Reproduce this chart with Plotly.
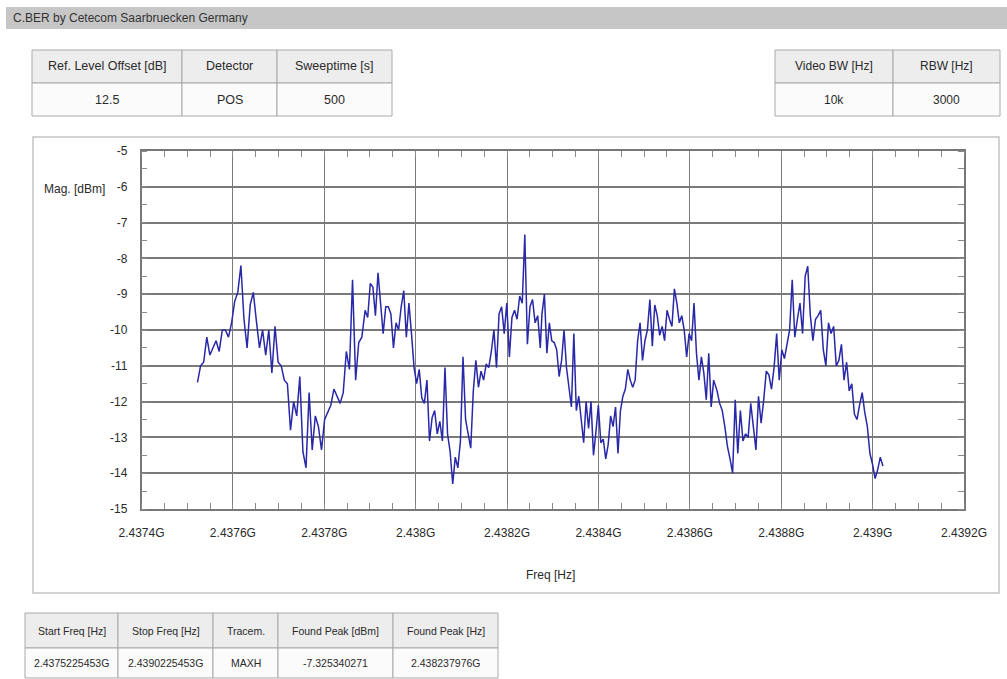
import numpy as np
import plotly.graph_objects as go

W, H = 1007, 679

title_text = "C.BER by Cetecom Saarbruecken Germany"

# sweep segments (GHz) and the trace values (dBm)
seg_start_ghz = [2.4375225, 2.4378894, 2.4382764, 2.4386596]
seg_stop_ghz = [2.4378822, 2.4382727, 2.4386521, 2.4390225]

seg1_dbm = [-11.46, -11.0, -10.9, -10.2, -10.7, -10.5, -10.3, -10.6, -10.0, -10.0,
            -10.2, -9.8, -9.2, -8.95, -8.2, -9.7, -10.5, -9.3, -8.95, -9.75,
            -10.5, -10.0, -10.7, -10.0, -11.2, -9.9, -10.9, -11.0, -11.4, -11.5,
            -12.8, -12.0, -12.4, -11.3, -13.4, -13.85, -11.75, -13.35, -12.4, -12.7,
            -13.35, -12.5, -12.3, -12.1, -11.65, -11.85, -12.05, -11.75, -10.6, -11.1,
            -8.6, -11.4, -10.35, -10.2]
seg2_dbm = [-9.45, -9.65, -8.7, -8.8, -9.6, -8.4, -9.35, -10.1, -9.35, -9.35,
            -9.55, -10.5, -9.8, -10.0, -9.35, -8.9, -10.2, -9.25, -10.1, -11.05,
            -11.5, -11.1, -11.9, -12.05, -11.4, -13.1, -12.45, -12.25, -12.9, -12.55,
            -13.1, -11.05, -12.9, -13.4, -14.3, -13.55, -13.85, -13.1, -10.75, -12.5,
            -12.9, -13.3, -11.7, -10.85, -11.6, -11.15, -11.4, -10.95, -11.05, -10.6,
            -10.0, -11.05, -9.55, -9.35, -10.1, -9.25, -10.75, -9.65, -9.45, -9.7,
            -9.05, -9.25, -7.33, -10.4, -9.35, -9.15, -9.8, -9.6, -10.5]
seg3_dbm = [-9.55, -9.0, -10.65, -9.8, -10.3, -10.35, -10.55, -11.3, -10.85, -10.0,
            -11.05, -11.6, -12.15, -10.1, -12.25, -11.85, -12.6, -13.15, -12.0, -12.75,
            -12.0, -13.5, -12.85, -12.1, -13.15, -13.05, -13.6, -13.2, -12.4, -12.7,
            -12.15, -13.45, -12.25, -11.85, -11.65, -11.1, -11.4, -11.6, -11.4, -10.3,
            -9.8, -10.85, -10.3, -10.0, -9.15, -10.45, -9.3, -9.6, -10.15, -9.9,
            -10.3, -9.45, -9.7, -9.9, -8.85, -9.25, -9.8, -9.6, -10.0, -10.75,
            -10.1, -10.3, -9.25, -10.65, -11.4, -10.75, -11.2, -11.95, -10.65, -12.15,
            -11.4]
seg4_dbm = [-11.7, -12.05, -12.25, -12.7, -13.25, -13.6, -14.0, -11.95, -13.45, -12.25,
            -13.1, -12.9, -13.0, -12.05, -12.7, -13.35, -11.85, -12.6, -11.95, -11.15,
            -11.25, -11.65, -11.05, -10.1, -11.4, -10.55, -10.8, -10.35, -10.0, -8.6,
            -10.2, -9.7, -9.25, -10.1, -8.5, -8.22, -9.6, -10.3, -9.7, -9.6,
            -9.45, -10.55, -11.0, -9.8, -10.1, -9.9, -11.0, -10.85, -10.4, -11.4,
            -10.9, -11.7, -11.5, -12.35, -12.5, -12.1, -11.75, -12.3, -12.7, -13.45,
            -13.75, -14.15, -13.9, -13.55, -13.8]

x_tick_vals = [2.4374, 2.4376, 2.4378, 2.4380, 2.4382, 2.4384, 2.4386, 2.4388, 2.4390, 2.4392]
x_tick_labels = ["2.4374G", "2.4376G", "2.4378G", "2.438G", "2.4382G", "2.4384G",
                 "2.4386G", "2.4388G", "2.439G", "2.4392G"]
y_tick_vals = [-5, -6, -7, -8, -9, -10, -11, -12, -13, -14, -15]
y_tick_labels = ["-5", "-6", "-7", "-8", "-9", "-10", "-11", "-12", "-13", "-14", "-15"]

tl_headers = ["Ref. Level Offset [dB]", "Detector", "Sweeptime [s]"]
tl_values = ["12.5", "POS", "500"]
tr_headers = ["Video BW [Hz]", "RBW [Hz]"]
tr_values = ["10k", "3000"]
bt_headers = ["Start Freq [Hz]", "Stop Freq [Hz]", "Tracem.", "Found Peak [dBm]", "Found Peak [Hz]"]
bt_values = ["2.4375225453G", "2.4390225453G", "MAXH", "-7.325340271", "2.438237976G"]

# ---------------------------------------------------------------
segs = [seg1_dbm, seg2_dbm, seg3_dbm, seg4_dbm]
freq, mag = [], []
for s0, s1, vals in zip(seg_start_ghz, seg_stop_ghz, segs):
    freq.extend(np.linspace(s0, s1, len(vals)).tolist())
    mag.extend(vals)


def px(x):
    return x / W


def py(y):
    return 1 - y / H


FONT = "Liberation Sans, Arial, sans-serif"
TXT = "#2a2a2a"

fig = go.Figure()
fig.add_trace(go.Scatter(x=freq, y=mag, mode="lines",
                         line=dict(color="#2828a8", width=1.5), hoverinfo="skip",
                         showlegend=False))

shapes = []
annotations = []

# title bar
shapes.append(dict(type="rect", xref="paper", yref="paper", x0=px(6), x1=px(1007),
                   y0=py(29), y1=py(7), fillcolor="#c6c6c6", line=dict(width=0), layer="below"))
annotations.append(dict(text=title_text, x=px(11), y=py(18), xref="paper", yref="paper",
                        xanchor="left", yanchor="middle", showarrow=False,
                        font=dict(family=FONT, size=12, color="#333333")))

# chart panel frame
shapes.append(dict(type="rect", xref="paper", yref="paper", x0=px(33), x1=px(999),
                   y0=py(593), y1=py(137), fillcolor="rgba(0,0,0,0)",
                   line=dict(color="#c4c4c4", width=1.5), layer="below"))


def add_table(col_edges, row_edges, headers, values, fsize):
    for i, (h, v) in enumerate(zip(headers, values)):
        x0, x1 = col_edges[i], col_edges[i + 1]
        for (y0, y1, txt, fill) in [(row_edges[0], row_edges[1], h, "#ededed"),
                                    (row_edges[1], row_edges[2], v, "#fbfbfb")]:
            shapes.append(dict(type="rect", xref="paper", yref="paper",
                               x0=px(x0), x1=px(x1), y0=py(y1), y1=py(y0),
                               fillcolor=fill, line=dict(color="#a9a9a9", width=1),
                               layer="below"))
            annotations.append(dict(text=txt, x=px((x0 + x1) / 2), y=py((y0 + y1) / 2),
                                    xref="paper", yref="paper", xanchor="center",
                                    yanchor="middle", showarrow=False,
                                    font=dict(family=FONT, size=fsize, color=TXT)))


add_table([32, 182, 277, 392], [50, 83, 116], tl_headers, tl_values, 12.5)
add_table([775, 893, 1000], [50, 83, 116], tr_headers, tr_values, 12)
add_table([25, 118, 213, 278, 393, 498], [613, 648, 678], bt_headers, bt_values, 10.5)

# axis titles
annotations.append(dict(text="Mag. [dBm]", x=px(42), y=py(189), xref="paper", yref="paper",
                        xanchor="left", yanchor="middle", showarrow=False,
                        font=dict(family=FONT, size=12, color=TXT)))
annotations.append(dict(text="Freq [Hz]", x=px(550), y=py(575), xref="paper", yref="paper",
                        xanchor="center", yanchor="middle", showarrow=False,
                        font=dict(family=FONT, size=12, color=TXT)))

GRID = "#7a7a7a"
fig.update_layout(
    width=W, height=H, margin=dict(l=0, r=0, t=0, b=0, autoexpand=False),
    paper_bgcolor="white", plot_bgcolor="white",
    shapes=shapes, annotations=annotations, showlegend=False,
    xaxis=dict(domain=[px(141.5), px(964)], range=[2.4374, 2.4392], automargin=False,
               tickmode="array", tickvals=x_tick_vals, ticktext=x_tick_labels,
               showgrid=True, gridcolor=GRID, gridwidth=1, zeroline=False,
               ticks="", showline=True, linecolor="#777777", linewidth=1.5,
               mirror="allticks", ticklabelstandoff=12,
               tickfont=dict(family=FONT, size=12, color=TXT),
               minor=dict(tickmode="linear", tick0=2.4374, dtick=0.00005, ticks="inside",
                          ticklen=6, tickcolor="#8a8a8a", tickwidth=1, showgrid=False)),
    yaxis=dict(domain=[py(509), py(151)], range=[-15, -5], automargin=False,
               tickmode="array", tickvals=y_tick_vals, ticktext=y_tick_labels,
               showgrid=True, gridcolor=GRID, gridwidth=1.6, zeroline=False,
               ticks="", showline=True, linecolor="#777777", linewidth=1.5,
               mirror="allticks", ticklabelstandoff=10,
               tickfont=dict(family=FONT, size=12, color=TXT),
               minor=dict(tickmode="linear", tick0=-15, dtick=0.5, ticks="inside",
                          ticklen=6, tickcolor="#8a8a8a", tickwidth=1, showgrid=False)),
)

fig.write_html("out.html", config={"displayModeBar": False},
               post_script="document.body.style.margin='0';document.body.style.overflow='hidden';")
